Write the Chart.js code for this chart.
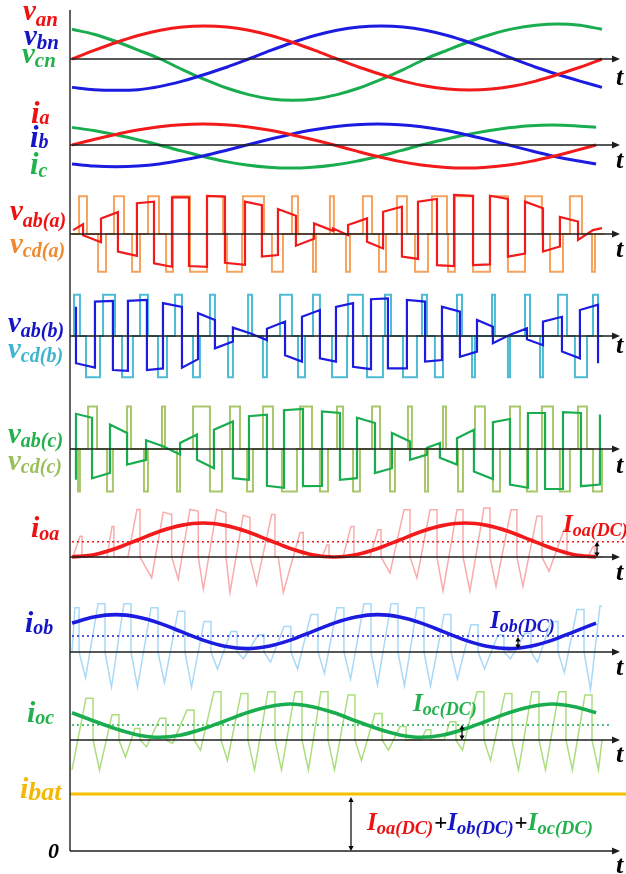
<!DOCTYPE html>
<html>
<head>
<meta charset="utf-8">
<script src="https://cdn.jsdelivr.net/npm/chart.js@4"></script>
<style>
  html, body { margin: 0; padding: 0; background: #ffffff; }
  canvas { display: block; }
</style>
</head>
<body>
<canvas id="wave" width="626" height="874"></canvas>
<script>
// ---------------------------------------------------------------
// Time base: electrical angle of the grid fundamental, in degrees
// ---------------------------------------------------------------
const ANGLE   = [0,15,30,45,60,75,90,105,120,135,150,165,180,195,210,225,240,255,270,285,300,315,330,345,360];
const ANGLE_I = [0,14.8,29.7,44.5,59.3,74.2,89,103.8,118.7,133.5,148.3,163.2,178,192.8,207.7,222.5,237.3,252.2,267,281.8,296.7,311.5,326.3,341.2,356];

// Grid phase voltages (p.u.)
const V_AN = [0,.26,.5,.71,.87,.97,1,.97,.87,.71,.5,.26,0,-.25,-.47,-.67,-.82,-.91,-.94,-.91,-.82,-.67,-.47,-.25,0];
const V_BN = [-.86,-.93,-.95,-.93,-.83,-.67,-.47,-.25,0,.26,.5,.71,.87,.97,1,.97,.87,.71,.5,.26,0,-.25,-.47,-.67,-.86];
const V_CN = [.9,.75,.53,.27,0,-.32,-.62,-.88,-1.08,-1.21,-1.25,-1.21,-1.08,-.88,-.62,-.32,0,.27,.53,.75,.92,1.02,1.06,1.02,.9];

// Grid phase currents (p.u.)
const I_A = [0,.26,.5,.71,.87,.97,1,.97,.87,.71,.5,.26,0,-.28,-.55,-.78,-.95,-1.06,-1.1,-1.06,-.95,-.78,-.55,-.28,0];
const I_B = [-.9,-1,-1.03,-1,-.9,-.73,-.52,-.27,0,.26,.5,.71,.87,.97,1,.97,.87,.71,.5,.26,0,-.27,-.52,-.73,-.9];
const I_C = [.84,.69,.49,.25,0,-.28,-.55,-.78,-.95,-1.06,-1.1,-1.06,-.95,-.78,-.55,-.28,0,.25,.48,.67,.82,.92,.95,.92,.84];

// Primary bridge voltages v_ab of each module: [angle, p.u.]
const VAB_A = [[0.7,.10],[7.5,.25],[7.5,-.03],[19.7,-.21],[19.7,.40],[31.2,.56],[31.2,-.45],[44.1,-.56],[44.1,.79],[55.7,.83],[55.7,-.75],[67.9,-.84],[67.9,.94],[79.5,.94],[79.5,-.82],[91.7,-.84],[91.7,.98],[103.9,.96],[103.9,-.74],[117.5,-.79],[117.5,.83],[129.0,.74],[129.0,-.58],[139.9,-.54],[139.9,.64],[152.1,.47],[152.1,-.30],[164.4,-.12],[164.4,.27],[177.3,.08],[177.3,.14],[187.5,-.03],[187.5,.23],[200.4,.40],[200.4,-.20],[211.3,-.37],[211.3,.57],[224.1,.70],[224.1,-.58],[235.0,-.64],[235.0,.83],[247.9,.90],[247.9,-.80],[259.5,-.82],[259.5,1.0],[272.4,.98],[272.4,-.80],[283.9,-.78],[283.9,.98],[296.1,.90],[296.1,-.58],[307.7,-.50],[307.7,.83],[319.9,.66],[319.9,-.45],[331.4,-.32],[331.4,.44],[343.7,.32],[343.7,-.15],[353.9,.10],[360.0,.15]];
const VAB_B = [[2.7,.73],[2.7,-.68],[15.6,-.79],[15.6,.86],[27.8,.88],[27.8,-.85],[38.0,-.87],[38.0,.88],[50.9,.90],[50.9,-.85],[61.8,-.81],[61.8,.82],[74.7,.73],[74.7,-.79],[85.6,-.58],[85.6,.57],[97.1,.40],[97.1,-.31],[109.3,-.14],[109.3,.21],[120.9,.07],[132.4,-.10],[132.4,.18],[144.7,.36],[144.7,-.48],[156.2,-.64],[156.2,.48],[168.4,.65],[168.4,-.56],[179.3,-.64],[179.3,.73],[190.9,.82],[190.9,-.77],[203.1,-.83],[203.1,.92],[214.6,.94],[214.6,-.81],[227.5,-.81],[227.5,.90],[239.8,.86],[239.8,-.64],[251.3,-.60],[251.3,.73],[263.5,.61],[263.5,-.52],[275.1,-.39],[275.1,.40],[285.9,.23],[285.9,-.18],[297.5,.03],[309.0,.19],[309.0,-.08],[319.9,-.23],[319.9,.36],[332.8,.48],[332.8,-.39],[345.0,-.56],[345.0,.65],[357.3,.78],[357.3,-.68]];
const VAB_C = [[2.7,-.77],[2.7,.88],[13.6,.78],[13.6,-.73],[25.8,-.60],[25.8,.61],[37.4,.40],[37.4,-.39],[50.3,-.27],[50.3,.22],[61.8,.07],[73.4,-.14],[73.4,.15],[84.9,.36],[84.9,-.27],[96.4,-.48],[96.4,.48],[109.3,.69],[109.3,-.73],[120.2,-.77],[120.2,.82],[132.4,.86],[132.4,-.92],[144.0,-.97],[144.0,.97],[156.9,1.0],[156.9,-.93],[169.8,-.92],[169.8,.94],[182.0,.90],[182.0,-.77],[193.6,-.73],[193.6,.78],[205.8,.65],[205.8,-.60],[217.3,-.48],[217.3,.40],[229.6,.19],[229.6,-.27],[241.1,-.14],[241.1,.03],[249.9,.15],[249.9,-.22],[261.5,-.39],[261.5,.27],[273.0,.48],[273.0,-.56],[285.9,-.75],[285.9,.67],[297.5,.75],[297.5,-.89],[309.7,-.97],[309.7,.90],[321.3,.90],[321.3,-1.0],[333.5,-1.0],[333.5,.92],[345.7,.90],[345.7,-.93],[358.6,-.89],[358.6,.86]];

// Battery-side bridge voltages v_cd: switching instants [angle, level -1/0/+1]
const VCD_A = [[0,0],[4.8,1],[10.2,0],[17.7,-1],[23.1,0],[28.5,1],[35.3,0],[40.8,-1],[46.2,0],[51.6,1],[59.1,0],[63.9,-1],[68.6,1],[80.1,-1],[91.7,1],[102.6,0],[105.3,-1],[115.5,0],[116.1,1],[130.4,0],[135.8,-1],[143.3,0],[149.4,1],[153.5,0],[163.7,-1],[165.7,0],[175.2,1],[177.9,0],[186.1,-1],[188.8,0],[197.6,1],[203.8,0],[208.5,-1],[213.3,0],[220.7,1],[227.5,0],[233.0,-1],[241.8,0],[244.5,1],[254.7,0],[255.4,-1],[260.1,1],[272.4,-1],[283.9,1],[296.1,-1],[307.7,1],[319.2,0],[324.7,-1],[333.5,0],[338.2,1],[346.4,0],[353.2,-1],[355.2,0],[361.0,0]];
const VCD_B = [[0,0],[1.4,1],[5.4,0],[9.5,-1],[19.0,0],[21.1,1],[29.2,0],[34.0,-1],[41.4,0],[46.2,1],[51.6,0],[58.4,-1],[64.5,0],[70.0,1],[74.7,0],[82.2,-1],[86.9,0],[93.7,1],[97.1,0],[106.0,-1],[109.3,0],[119.6,1],[122.3,0],[129.7,-1],[132.4,0],[141.3,1],[149.4,0],[153.5,-1],[158.3,0],[163.7,1],[168.4,0],[176.6,-1],[186.8,0],[187.5,1],[197.6,0],[200.4,-1],[211.2,0],[212.6,1],[216.7,0],[224.8,-1],[234.3,0],[237.7,1],[241.1,0],[246.5,-1],[252.0,0],[261.5,1],[264.9,0],[271.7,-1],[273.7,0],[285.3,1],[287.3,0],[296.1,-1],[297.5,0],[307.7,1],[311.1,0],[317.9,-1],[319.9,0],[330.1,1],[336.2,0],[341.6,-1],[349.8,0],[353.9,1],[357.3,0],[360.5,0]];
const VCD_C = [[0,0],[4.1,-1],[5.4,0],[10.9,1],[17.0,0],[23.8,-1],[27.8,0],[37.4,1],[40.1,0],[48.9,-1],[51.6,0],[61.1,1],[63.2,0],[71.3,-1],[73.4,0],[82.2,1],[93.7,-1],[101.9,0],[107.3,1],[114.1,0],[118.9,-1],[122.9,0],[129.7,1],[136.5,0],[142.6,-1],[152.8,0],[154.9,1],[163.0,0],[168.4,-1],[173.9,0],[180.0,1],[184.1,0],[190.9,-1],[195.6,0],[203.8,1],[209.2,0],[216.0,-1],[219.4,0],[228.2,1],[230.9,0],[239.8,-1],[241.8,0],[252.0,1],[254.0,0],[262.2,-1],[265.6,0],[273.7,1],[280.5,0],[285.9,-1],[290.7,0],[297.5,1],[304.3,0],[309.0,-1],[315.8,0],[319.2,1],[326.7,0],[331.4,-1],[338.2,0],[343.7,1],[349.8,0],[353.9,-1],[360.0,0]];
const VDC_A = 0.97, VDC_B = 1.03, VDC_C = 1.06;   // battery-side bridge level, p.u.

// Module output currents: low-frequency component (p.u.)
const IOA = [0,.067,.25,.5,.75,.93,1,.93,.75,.5,.25,.067,0,.067,.25,.5,.75,.93,1,.93,.75,.5,.25,.067,0];
const IOB = [.85,1.03,1.1,1.03,.85,.6,.35,.17,.1,.17,.35,.6,.85,1.03,1.1,1.03,.85,.6,.35,.17,.1,.17,.35,.6,.85];
const IOC = [.8,.56,.33,.15,.08,.15,.33,.56,.8,.98,1.06,.98,.8,.56,.33,.15,.08,.15,.33,.56,.8,.98,1.06,.98,.8];
const IOA_DC = 0.45, IOB_DC = 0.47, IOC_DC = 0.44;
const DC_SPAN = [0, 375.6];
const DC_SPAN_C = [0, 366.8];

// Module output currents with switching ripple: [angle, p.u.]
const IOA_RIPPLE = [[0,0],[.7,0],[5.4,.61],[6.8,.61],[6.8,0],[23.8,0],[27.2,.9],[28.5,.9],[28.5,0],[38.0,0],[44.1,1.4],[46.2,1.4],[46.2,0],[54.1,-.61],[62.0,1.32],[67.7,1.25],[67.7,0],[72.2,-.66],[80.1,1.4],[85.8,1.35],[85.8,0],[89.2,-.95],[98.3,1.4],[104.6,1.3],[104.6,0],[107.3,-1.05],[116.3,1.23],[120.9,1.16],[120.9,0],[125.4,-.8],[135.6,1.25],[137.9,1.25],[137.9,0],[140.1,0],[143.5,-1.05],[154.9,.72],[157.1,.72],[157.1,0],[169.8,0],[173.2,.35],[174.6,.35],[174.6,0],[184.1,0],[189.5,.9],[191.5,.9],[191.5,0],[202.4,0],[207.8,.8],[209.9,.8],[209.9,0],[216.0,-.47],[225.5,1.39],[229.6,1.39],[229.6,0],[234.3,-.62],[243.2,1.39],[247.9,1.39],[247.9,0],[252.0,-1.0],[261.5,1.39],[265.6,1.39],[265.6,0],[270.3,-1.0],[279.8,1.44],[283.9,1.44],[283.9,0],[288.0,-.86],[298.2,1.39],[302.2,1.39],[302.2,0],[306.3,-.86],[315.8,1.2],[319.2,1.2],[319.2,0],[324.0,-.42],[334.2,.8],[336.2,.8],[336.2,0],[350.5,0],[353.9,.31],[355.2,.31],[355.2,0],[360,0]];
const IOB_RIPPLE = [[0,0],[2.0,1.3],[4.8,1.3],[4.8,0],[9.2,-.76],[17.7,1.42],[22.4,1.42],[22.4,0],[26.8,-1.03],[35.3,1.42],[40.1,1.42],[40.1,0],[44.5,-1.03],[53.7,1.3],[58.4,1.3],[58.4,0],[62.8,-.9],[72.0,1.2],[76.7,1.2],[76.7,0],[81.2,-1.03],[89.7,.9],[94.4,.9],[94.4,0],[98.8,-.5],[108.0,.6],[112.1,.6],[112.1,0],[116.5,-.2],[126.3,.5],[130.4,.5],[130.4,0],[134.8,-.3],[144.0,.75],[148.7,.75],[148.7,0],[153.2,-.5],[162.3,1.1],[167.1,1.1],[167.1,0],[171.5,-.63],[180.0,1.3],[184.7,1.3],[184.7,0],[189.2,-.8],[198.3,1.42],[203.1,1.42],[203.1,0],[207.5,-.97],[216.7,1.42],[221.4,1.42],[221.4,0],[225.8,-1.0],[234.3,1.3],[239.1,1.3],[239.1,0],[243.5,-1.0],[252.7,1.1],[257.4,1.1],[257.4,0],[261.8,-.8],[271.0,.8],[275.8,.8],[275.8,0],[280.2,-.5],[289.3,.5],[293.4,.5],[293.4,0],[297.8,-.2],[307.7,.55],[311.8,.55],[311.8,0],[316.2,-.3],[325.3,.9],[330.1,.9],[330.1,0],[334.5,-.6],[343.0,1.25],[347.8,1.25],[347.8,0],[352.2,-1.1],[358.6,1.35],[360,1.35]];
const IOC_RIPPLE = [[0,-.88],[9.5,1.23],[14.3,1.23],[14.3,0],[18.7,-.88],[27.2,.74],[31.9,.74],[31.9,0],[36.3,-.5],[42.8,.34],[46.2,.34],[46.2,0],[50.6,-.2],[59.8,.64],[63.8,.64],[63.8,0],[68.3,-.1],[78.1,.88],[82.9,.88],[82.9,0],[87.3,-.3],[96.4,1.42],[101.2,1.42],[101.2,0],[105.6,-.6],[114.8,1.37],[119.5,1.37],[119.5,0],[124.0,-.88],[133.1,1.42],[137.9,1.42],[137.9,0],[142.3,-.88],[151.5,1.42],[156.2,1.42],[156.2,0],[160.6,-.88],[169.1,1.42],[173.9,1.42],[173.9,0],[178.3,-.88],[187.5,1.32],[192.2,1.32],[192.2,0],[196.6,-.6],[205.8,.78],[210.6,.78],[210.6,0],[215.0,-.3],[222.8,.4],[226.9,.4],[226.9,0],[237.0,0],[240.4,.3],[243.8,.3],[243.8,0],[252.7,0],[256.7,.54],[260.8,.54],[260.8,0],[265.2,-.3],[275.1,1.42],[279.8,1.42],[279.8,0],[284.3,-.6],[294.1,1.37],[298.8,1.37],[298.8,0],[303.3,-.88],[312.4,1.42],[317.2,1.42],[317.2,0],[321.6,-.88],[330.8,1.42],[335.5,1.42],[335.5,0],[339.9,-.88],[348.4,1.32],[353.2,1.32],[353.2,0],[357.6,-.88],[360,0]];

// Battery current = sum of the three module DC components
const IBAT = 1.36;
const BAT_SPAN = [-1.4, 376.3];

// ---------------------------------------------------------------
// Layout of the stacked traces (baseline row and size of 1 p.u.)
// ---------------------------------------------------------------
const ROW = {
  vn:  { base: 59,  k: 33 },
  iac: { base: 145, k: 21 },
  va:  { base: 234, k: 39 },
  vb:  { base: 336, k: 40 },
  vc:  { base: 449, k: 40 },
  ioa: { base: 557, k: 34 },
  iob: { base: 652, k: 34 },
  ioc: { base: 740, k: 34 },
  bat: { base: 851, k: 42 }
};

const C = {
  red: '#f21a1a', blue: '#1c1ce0', green: '#19ad4f',
  orange: '#f6a35e', lblue: '#4dbbd3', olive: '#a8c76b',
  pink: '#f9abab', sky: '#a9d9f6', lime: '#acde7e', gold: '#f8bf00',
  labRed: '#ee1111', labBlue: '#1515c8', labGreen: '#22b14c',
  labOrange: '#f0892e', labLBlue: '#3fb4cf', labOlive: '#9bbf5c', labGold: '#f5b800'
};

function sampled(ang, vals, row) {
  return ang.map((a, i) => ({ x: a, y: row.base - vals[i] * row.k }));
}
function pairs(list, row, gain) {
  const g = gain || 1;
  return list.map(p => ({ x: p[0], y: row.base - p[1] * g * row.k }));
}
function level(span, v, row) {
  return span.map(t => ({ x: t, y: row.base - v * row.k }));
}
function ds(data, color, width, order, extra) {
  return Object.assign({
    data, showLine: true, borderColor: color, borderWidth: width,
    pointRadius: 0, fill: false, tension: 0, order,
    borderCapStyle: 'butt', borderJoinStyle: 'miter'
  }, extra || {});
}
const smooth = { cubicInterpolationMode: 'monotone' };
const step = { stepped: 'before' };

const datasets = [
  // grid voltages
  ds(sampled(ANGLE, V_AN, ROW.vn), C.red, 3, 1, smooth),
  ds(sampled(ANGLE, V_BN, ROW.vn), C.blue, 3, 1, smooth),
  ds(sampled(ANGLE, V_CN, ROW.vn), C.green, 3, 1, smooth),
  // grid currents
  ds(sampled(ANGLE_I, I_A, ROW.iac), C.red, 3, 1, smooth),
  ds(sampled(ANGLE_I, I_B, ROW.iac), C.blue, 3, 1, smooth),
  ds(sampled(ANGLE_I, I_C, ROW.iac), C.green, 3, 1, smooth),
  // module a
  ds(pairs(VAB_A, ROW.va), C.red, 2.2, 1),
  ds(pairs(VCD_A, ROW.va, VDC_A), C.orange, 2, 2, step),
  // module b
  ds(pairs(VAB_B, ROW.vb), C.blue, 2.2, 1),
  ds(pairs(VCD_B, ROW.vb, VDC_B), C.lblue, 2, 2, step),
  // module c
  ds(pairs(VAB_C, ROW.vc), C.green, 2.2, 1),
  ds(pairs(VCD_C, ROW.vc, VDC_C), C.olive, 2, 2, step),
  // output currents
  ds(sampled(ANGLE_I, IOA, ROW.ioa), C.red, 3.6, 1, smooth),
  ds(level(DC_SPAN, IOA_DC, ROW.ioa), C.red, 1.6, 2, { borderDash: [2, 3] }),
  ds(pairs(IOA_RIPPLE, ROW.ioa), C.pink, 1.5, 3),
  ds(sampled(ANGLE_I, IOB, ROW.iob), C.blue, 3.6, 1, smooth),
  ds(level(DC_SPAN, IOB_DC, ROW.iob), C.blue, 1.6, 2, { borderDash: [2, 3] }),
  ds(pairs(IOB_RIPPLE, ROW.iob), C.sky, 1.5, 3),
  ds(sampled(ANGLE_I, IOC, ROW.ioc), C.green, 3.6, 1, smooth),
  ds(level(DC_SPAN_C, IOC_DC, ROW.ioc), C.green, 1.6, 2, { borderDash: [2, 3] }),
  ds(pairs(IOC_RIPPLE, ROW.ioc), C.lime, 1.5, 3),
  // battery current
  ds(level(BAT_SPAN, IBAT, ROW.bat), C.gold, 3, 1)
];

// ---------------------------------------------------------------
// Axes, arrows and symbols
// ---------------------------------------------------------------
const SERIF = '"Liberation Serif", "Times New Roman", serif';
const AXIS_X0 = 70, AXIS_TIP = 620;
const T_LABEL_Y = [85, 168, 257, 353, 473, 580, 675, 762, 873];

const SYMBOLS = [
  { m: 'v', s: 'an',    x: 23, y: 20,  dy: 6, c: C.labRed,    mf: 29, sf: 21 },
  { m: 'v', s: 'bn',    x: 24, y: 45,  dy: 4, c: C.labBlue,   mf: 29, sf: 21 },
  { m: 'v', s: 'cn',    x: 22, y: 63,  dy: 4, c: C.labGreen,  mf: 29, sf: 21 },
  { m: 'i', s: 'a',     x: 31, y: 123, dy: 1, c: C.labRed,    mf: 31, sf: 20 },
  { m: 'i', s: 'b',     x: 30, y: 147, dy: 1, c: C.labBlue,   mf: 31, sf: 20 },
  { m: 'i', s: 'c',     x: 30, y: 174, dy: 3, c: C.labGreen,  mf: 31, sf: 20 },
  { m: 'v', s: 'ab(a)', x: 10, y: 220, dy: 7, c: C.labRed,    mf: 29, sf: 20 },
  { m: 'v', s: 'cd(a)', x: 10, y: 253, dy: 4, c: C.labOrange, mf: 29, sf: 20 },
  { m: 'v', s: 'ab(b)', x: 8,  y: 332, dy: 5, c: C.labBlue,   mf: 29, sf: 20 },
  { m: 'v', s: 'cd(b)', x: 8,  y: 358, dy: 4, c: C.labLBlue,  mf: 29, sf: 20 },
  { m: 'v', s: 'ab(c)', x: 8,  y: 443, dy: 4, c: C.labGreen,  mf: 29, sf: 20 },
  { m: 'v', s: 'cd(c)', x: 8,  y: 470, dy: 3, c: C.labOlive,  mf: 29, sf: 20 },
  { m: 'i', s: 'oa',    x: 31, y: 537, dy: 3, c: C.labRed,    mf: 30, sf: 20 },
  { m: 'i', s: 'ob',    x: 25, y: 632, dy: 2, c: C.labBlue,   mf: 30, sf: 20 },
  { m: 'i', s: 'oc',    x: 27, y: 722, dy: 2, c: C.labGreen,  mf: 30, sf: 20 },
  { m: 'i', s: 'bat',   x: 20, y: 798, dy: 2, c: C.labGold,   mf: 30, sf: 26 }
];

function symbol(ctx, x, y, main, sub, color, mf, sf, dy) {
  ctx.fillStyle = color;
  ctx.font = 'italic bold ' + mf + 'px ' + SERIF;
  ctx.fillText(main, x, y);
  const w = ctx.measureText(main).width;
  ctx.font = 'italic bold ' + sf + 'px ' + SERIF;
  ctx.fillText(sub, x + w, y + dy);
  return x + w + ctx.measureText(sub).width;
}

function hArrowAxis(ctx, y) {
  ctx.beginPath();
  ctx.moveTo(AXIS_X0, y);
  ctx.lineTo(AXIS_TIP - 5, y);
  ctx.stroke();
  ctx.beginPath();
  ctx.moveTo(AXIS_TIP, y);
  ctx.lineTo(AXIS_TIP - 8, y - 3.5);
  ctx.lineTo(AXIS_TIP - 8, y + 3.5);
  ctx.closePath();
  ctx.fill();
}

function doubleArrow(ctx, x, y1, y2, head) {
  const h = head || 4;
  ctx.beginPath();
  ctx.moveTo(x, y1 + h);
  ctx.lineTo(x, y2 - h);
  ctx.stroke();
  ctx.beginPath();
  ctx.moveTo(x, y1); ctx.lineTo(x - 2.6, y1 + h + 1); ctx.lineTo(x + 2.6, y1 + h + 1); ctx.closePath();
  ctx.fill();
  ctx.beginPath();
  ctx.moveTo(x, y2); ctx.lineTo(x - 2.6, y2 - h - 1); ctx.lineTo(x + 2.6, y2 - h - 1); ctx.closePath();
  ctx.fill();
}

function plus(ctx, x, y) {
  ctx.fillStyle = '#000';
  ctx.font = 'bold 23px ' + SERIF;
  ctx.fillText('+', x + 1, y);
  return x + 1 + ctx.measureText('+').width;
}

const overlay = {
  id: 'overlay',
  afterDatasetsDraw(chart) {
    const ctx = chart.ctx;
    ctx.save();
    ctx.textBaseline = 'alphabetic';

    // common vertical axis
    ctx.strokeStyle = '#3c3c3c';
    ctx.lineWidth = 1.6;
    ctx.beginPath();
    ctx.moveTo(AXIS_X0, 10);
    ctx.lineTo(AXIS_X0, ROW.bat.base);
    ctx.stroke();

    // time axes
    ctx.lineWidth = 1.3;
    const rows = [ROW.vn, ROW.iac, ROW.va, ROW.vb, ROW.vc, ROW.ioa, ROW.iob, ROW.ioc, ROW.bat];
    rows.forEach((r, i) => {
      ctx.strokeStyle = '#1e1e1e';
      ctx.fillStyle = '#1e1e1e';
      hArrowAxis(ctx, r.base);
      ctx.fillStyle = '#000';
      ctx.font = 'italic bold 26px ' + SERIF;
      ctx.fillText('t', 616, T_LABEL_Y[i]);
    });

    // trace names
    SYMBOLS.forEach(s => symbol(ctx, s.x, s.y, s.m, s.s, s.c, s.mf, s.sf, s.dy));

    // origin of the battery-current axis
    ctx.fillStyle = '#000';
    ctx.font = 'italic bold 22px ' + SERIF;
    ctx.fillText('0', 48, 858);

    // DC components of the module currents
    ctx.strokeStyle = '#000';
    ctx.fillStyle = '#000';
    ctx.lineWidth = 1.2;
    doubleArrow(ctx, 597, ROW.ioa.base - IOA_DC * ROW.ioa.k, ROW.ioa.base, 3.5);
    doubleArrow(ctx, 518, ROW.iob.base - IOB_DC * ROW.iob.k + 1, ROW.iob.base - 3, 3.5);
    doubleArrow(ctx, 462, ROW.ioc.base - IOC_DC * ROW.ioc.k, ROW.ioc.base, 3.5);
    doubleArrow(ctx, 351, ROW.bat.base - IBAT * ROW.bat.k + 3, ROW.bat.base, 4);

    symbol(ctx, 563, 532, 'I', 'oa(DC)', C.labRed, 25, 18, 4);
    symbol(ctx, 490, 628, 'I', 'ob(DC)', C.labBlue, 25, 18, 4);
    symbol(ctx, 413, 711, 'I', 'oc(DC)', C.labGreen, 25, 18, 4);

    let x = symbol(ctx, 367, 830, 'I', 'oa(DC)', C.labRed, 25, 18.5, 4);
    x = plus(ctx, x, 830);
    x = symbol(ctx, x, 830, 'I', 'ob(DC)', C.labBlue, 25, 18.5, 4);
    x = plus(ctx, x, 830);
    symbol(ctx, x, 830, 'I', 'oc(DC)', C.labGreen, 25, 18.5, 4);

    ctx.restore();
  }
};

new Chart(document.getElementById('wave').getContext('2d'), {
  type: 'scatter',
  data: { datasets },
  options: {
    responsive: false,
    devicePixelRatio: 1,
    animation: false,
    events: [],
    layout: { padding: 0 },
    plugins: { legend: { display: false }, tooltip: { enabled: false } },
    scales: {
      x: { type: 'linear', min: -48.9, max: 376.3, bounds: 'data', display: false },
      y: { type: 'linear', min: 0, max: 874, reverse: true, bounds: 'data', display: false }
    }
  },
  plugins: [overlay]
});
</script>
</body>
</html>
